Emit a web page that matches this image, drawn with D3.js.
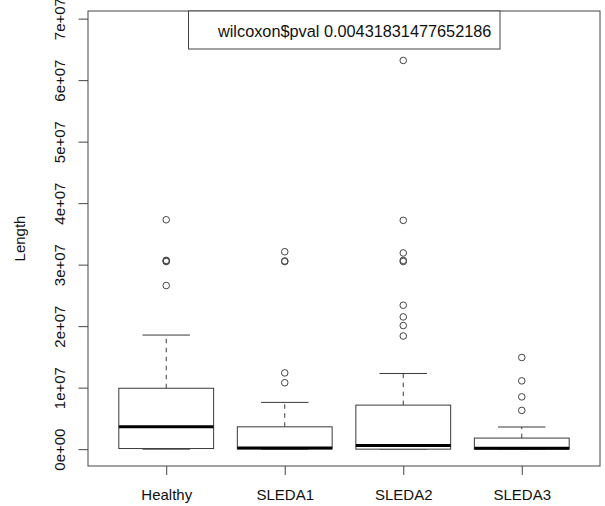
<!DOCTYPE html>
<html>
<head>
<meta charset="utf-8">
<script src="https://cdn.jsdelivr.net/npm/d3@7"></script>
<style>
  body { margin: 0; background: #fff; }
  svg { display: block; font-family: "Liberation Sans", Arial, sans-serif; }
</style>
</head>
<body>
<div id="main"></div>
<script>

// groups and box stats
var groups = ["Healthy", "SLEDA1", "SLEDA2", "SLEDA3"];
var lowWhisker = [0, 0, 0, 0];
var q1 = [0.01e7, 0.005e7, 0.0e7, 0.002e7];
var medians = [0.363e7, 0.02e7, 0.06e7, 0.015e7];
var q3 = [0.99e7, 0.363e7, 0.716e7, 0.18e7];
var highWhisker = [1.855e7, 0.76e7, 1.23e7, 0.36e7];
var outliers = [
  [3.73e7, 3.07e7, 3.06e7, 3.05e7, 2.66e7],
  [3.21e7, 3.06e7, 3.05e7, 1.24e7, 1.08e7],
  [6.32e7, 3.72e7, 3.19e7, 3.07e7, 3.05e7, 2.34e7, 2.15e7, 2.01e7, 1.84e7],
  [1.49e7, 1.11e7, 0.85e7, 0.63e7]
];
var yTicks = [0, 1e7, 2e7, 3e7, 4e7, 5e7, 6e7, 7e7];
var legendText = "wilcoxon$pval 0.00431831477652186";
var yLabel = "Length";

var W = 605, H = 506;
var mLeft = 88, mRight = 600, mTop = 11, mBottom = 466;

var svg = d3.select('#main')
  .append('svg')
  .attr("width", W)
  .attr("height", H);

var x = d3.scaleLinear().domain([0.34, 4.66]).range([mLeft, mRight]);
var y = d3.scaleLinear().domain([-0.274e7, 7.124e7]).range([mBottom, mTop]);

var lineCol = "#3a3a3a";

var boxes = groups.map((g, i) => ({
  name: g, pos: i + 1, lo: lowWhisker[i], q1: q1[i], med: medians[i],
  q3: q3[i], hi: highWhisker[i], out: outliers[i]
}));

var bw = 0.8; // box width in x units

var gBox = svg.append('g');

var bx = gBox.selectAll('g.box')
  .data(boxes)
  .enter()
  .append('g')
  .attr("class", "box");

// dashed whiskers
bx.append('line')
  .attr("x1", d => x(d.pos)).attr("x2", d => x(d.pos))
  .attr("y1", d => y(d.q3)).attr("y2", d => y(d.hi))
  .style("stroke", lineCol).style("stroke-dasharray", "4.5,4.5");
bx.append('line')
  .attr("x1", d => x(d.pos)).attr("x2", d => x(d.pos))
  .attr("y1", d => y(d.q1)).attr("y2", d => y(d.lo))
  .style("stroke", lineCol).style("stroke-dasharray", "4.5,4.5");

// caps
bx.append('line')
  .attr("x1", d => x(d.pos - bw / 4)).attr("x2", d => x(d.pos + bw / 4))
  .attr("y1", d => y(d.hi)).attr("y2", d => y(d.hi))
  .style("stroke", lineCol);
bx.append('line')
  .attr("x1", d => x(d.pos - bw / 4)).attr("x2", d => x(d.pos + bw / 4))
  .attr("y1", d => y(d.lo)).attr("y2", d => y(d.lo))
  .style("stroke", lineCol);

// box
bx.append('rect')
  .attr("x", d => x(d.pos - bw / 2))
  .attr("width", d => x(d.pos + bw / 2) - x(d.pos - bw / 2))
  .attr("y", d => y(d.q3))
  .attr("height", d => y(d.q1) - y(d.q3))
  .style("fill", "white")
  .style("stroke", lineCol);

// median
bx.append('line')
  .attr("x1", d => x(d.pos - bw / 2)).attr("x2", d => x(d.pos + bw / 2))
  .attr("y1", d => y(d.med)).attr("y2", d => y(d.med))
  .style("stroke", "#000").style("stroke-width", 3);

// outliers
bx.selectAll('circle')
  .data(d => d.out.map(v => ({pos: d.pos, v: v})))
  .enter()
  .append('circle')
  .attr("cx", d => x(d.pos))
  .attr("cy", d => y(d.v))
  .attr("r", 3.3)
  .style("fill", "none")
  .style("stroke", "#444")
  .style("stroke-width", 1);

// frame
svg.append('rect')
  .attr("x", mLeft).attr("y", mTop)
  .attr("width", mRight - mLeft).attr("height", mBottom - mTop)
  .style("fill", "none").style("stroke", "#444");

// y axis
var yAxis = svg.append('g')
  .attr("transform", "translate(" + mLeft + ",0)")
  .call(d3.axisLeft(y).tickValues(yTicks).tickSize(9.5).tickSizeOuter(0)
    .tickFormat(d => d === 0 ? "0e+00" : (d / 1e7) + "e+07"));
yAxis.select('.domain').remove();
yAxis.selectAll('line').style("stroke", "#444");
yAxis.selectAll('text')
  .attr("transform", "rotate(-90)")
  .attr("x", 0).attr("y", -28).attr("dy", "0.35em")
  .attr("text-anchor", "middle")
  .style("font-size", "15px").style("fill", "#111")
  .style("font-family", '"Liberation Sans", Arial, sans-serif');

// x axis
var xAxis = svg.append('g')
  .attr("transform", "translate(0," + mBottom + ")")
  .call(d3.axisBottom(x).tickValues(boxes.map(d => d.pos)).tickSize(9).tickSizeOuter(0)
    .tickFormat((d, i) => groups[i]));
xAxis.select('.domain').remove();
xAxis.selectAll('line').style("stroke", "#444");
xAxis.selectAll('text')
  .attr("y", 29).attr("dy", "0.35em")
  .style("font-size", "15px").style("fill", "#111")
  .style("font-family", '"Liberation Sans", Arial, sans-serif');

// y label
svg.append('text')
  .text(yLabel)
  .attr("transform", "translate(20," + ((mTop + mBottom) / 2) + ")rotate(-90)")
  .attr("text-anchor", "middle")
  .attr("dy", "0.35em")
  .style("font-size", "15px").style("fill", "#111");

// legend box
var lg = svg.append('g');
lg.append('rect')
  .attr("x", 188.5).attr("y", mTop)
  .attr("width", 311.5).attr("height", 38)
  .style("fill", "white").style("stroke", "#444");
lg.append('text')
  .text(legendText)
  .attr("x", 218).attr("y", 31)
  .attr("dy", "0.35em")
  .style("font-size", "16.3px").style("fill", "#111");

</script>
</body>
</html>
